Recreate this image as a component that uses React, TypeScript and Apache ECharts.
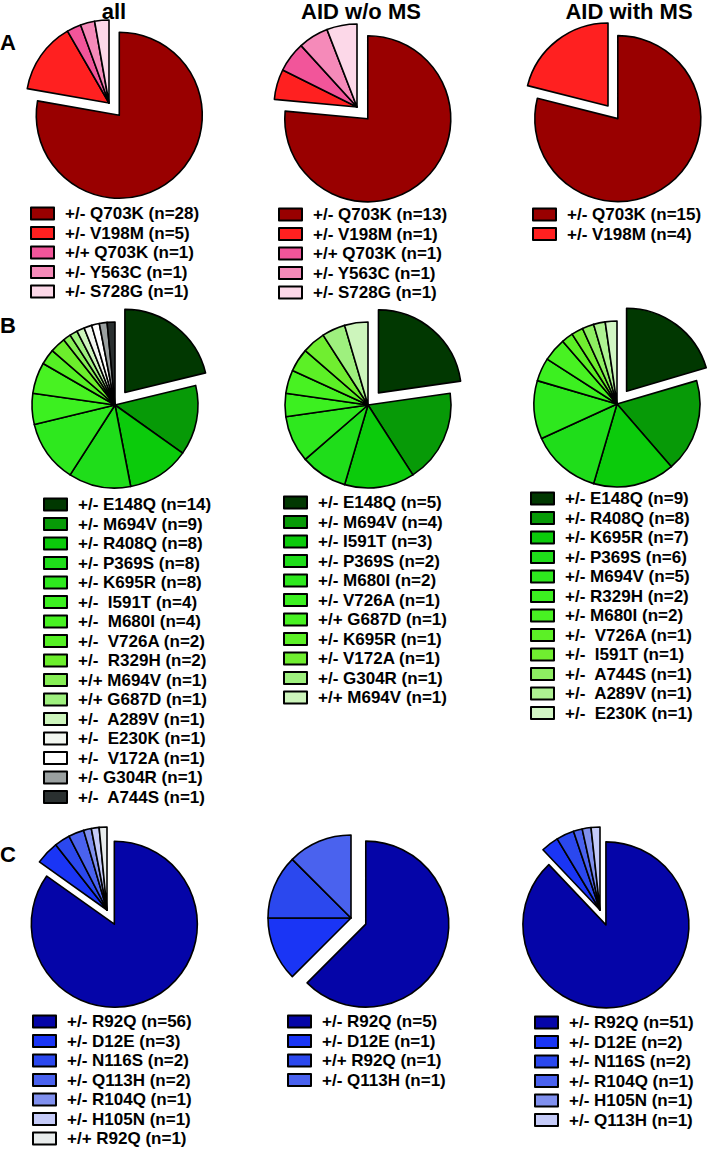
import React, { useEffect, useRef } from "react";
import * as echarts from "echarts";

const FONT = '"Liberation Sans", Arial, Helvetica, sans-serif';

const COLUMN_TITLES = ["all", "AID w/o MS", "AID with MS"];
const ROW_LABELS = ["A", "B", "C"];

// ---- Row A ----
const A_ALL_LABELS = ["+/- Q703K (n=28)", "+/- V198M (n=5)", "+/+ Q703K (n=1)", "+/- Y563C (n=1)", "+/- S728G (n=1)"];
const A_ALL_VALUES = [28, 5, 1, 1, 1];
const A_WO_LABELS = ["+/- Q703K (n=13)", "+/- V198M (n=1)", "+/+ Q703K (n=1)", "+/- Y563C (n=1)", "+/- S728G (n=1)"];
const A_WO_VALUES = [13, 1, 1, 1, 1];
const A_WITH_LABELS = ["+/- Q703K (n=15)", "+/- V198M (n=4)"];
const A_WITH_VALUES = [15, 4];
const RED_COLORS = ["#990000", "#FF2020", "#F2559A", "#F58AB9", "#FCD8E8"];

// ---- Row B ----
const B_ALL_LABELS = [
  "+/- E148Q (n=14)", "+/- M694V (n=9)", "+/- R408Q (n=8)", "+/- P369S (n=8)", "+/- K695R (n=8)",
  "+/-  I591T (n=4)", "+/-  M680I (n=4)", "+/-  V726A (n=2)", "+/-  R329H (n=2)", "+/+ M694V (n=1)",
  "+/+ G687D (n=1)", "+/-  A289V (n=1)", "+/-  E230K (n=1)", "+/-  V172A (n=1)", "+/- G304R (n=1)", "+/-  A744S (n=1)",
];
const B_ALL_VALUES = [14, 9, 8, 8, 8, 4, 4, 2, 2, 1, 1, 1, 1, 1, 1, 1];
const B_ALL_COLORS = [
  "#013801", "#079A07", "#0BCB0B", "#1FDD1A", "#2EE81E", "#3CF020", "#48F222", "#55F024",
  "#6CEE2C", "#86EE55", "#9EF07E", "#CDF5BC", "#F2F6F0", "#FFFFFF", "#9AA0A0", "#2A3030",
];
const B_WO_LABELS = [
  "+/- E148Q (n=5)", "+/- M694V (n=4)", "+/- I591T (n=3)", "+/- P369S (n=2)", "+/- M680I (n=2)",
  "+/- V726A (n=1)", "+/+ G687D (n=1)", "+/- K695R (n=1)", "+/- V172A (n=1)", "+/- G304R (n=1)", "+/+ M694V (n=1)",
];
const B_WO_VALUES = [5, 4, 3, 2, 2, 1, 1, 1, 1, 1, 1];
const B_WO_COLORS = [
  "#013801", "#079A07", "#0BCB0B", "#1FDD1A", "#2EE81E", "#3CF020", "#48F222", "#5CF026",
  "#70EE30", "#9EF07E", "#CDF5BC",
];
const B_WITH_LABELS = [
  "+/- E148Q (n=9)", "+/- R408Q (n=8)", "+/- K695R (n=7)", "+/- P369S (n=6)", "+/- M694V (n=5)",
  "+/- R329H (n=2)", "+/- M680I (n=2)", "+/-  V726A (n=1)", "+/-  I591T (n=1)", "+/-  A744S (n=1)",
  "+/-  A289V (n=1)", "+/-  E230K (n=1)",
];
const B_WITH_VALUES = [9, 8, 7, 6, 5, 2, 2, 1, 1, 1, 1, 1];
const B_WITH_COLORS = [
  "#013801", "#079A07", "#0BCB0B", "#1FDD1A", "#2EE81E", "#3CF020", "#48F222", "#5CF026",
  "#70EE30", "#8EEE62", "#AEF292", "#D2F6C4",
];

// ---- Row C ----
const C_ALL_LABELS = ["+/- R92Q (n=56)", "+/- D12E (n=3)", "+/- N116S (n=2)", "+/- Q113H (n=2)", "+/- R104Q (n=1)", "+/- H105N (n=1)", "+/+ R92Q (n=1)"];
const C_ALL_VALUES = [56, 3, 2, 2, 1, 1, 1];
const C_ALL_COLORS = ["#0505A8", "#1A35F5", "#2B48EE", "#4A62EE", "#8090EE", "#C5CBF8", "#E8ECEC"];
const C_WO_LABELS = ["+/- R92Q (n=5)", "+/- D12E (n=1)", "+/+ R92Q (n=1)", "+/- Q113H (n=1)"];
const C_WO_VALUES = [5, 1, 1, 1];
const C_WO_COLORS = ["#0505A8", "#1A35F5", "#2B48EE", "#4A62EE"];
const C_WITH_LABELS = ["+/- R92Q (n=51)", "+/- D12E (n=2)", "+/- N116S (n=2)", "+/- R104Q (n=1)", "+/- H105N (n=1)", "+/- Q113H (n=1)"];
const C_WITH_VALUES = [51, 2, 2, 1, 1, 1];
const C_WITH_COLORS = ["#0505A8", "#1A35F5", "#2B48EE", "#4A62EE", "#8090EE", "#C5CBF8"];

type Panel = {
  labels: string[];
  values: number[];
  colors: string[];
  center: [number, number];
  legend: [number, number];
};

const PANELS: Panel[] = [
  { labels: A_ALL_LABELS, values: A_ALL_VALUES, colors: RED_COLORS, center: [109, 103], legend: [30, 205] },
  { labels: A_WO_LABELS, values: A_WO_VALUES, colors: RED_COLORS, center: [357, 107], legend: [278, 206] },
  { labels: A_WITH_LABELS, values: A_WITH_VALUES, colors: RED_COLORS, center: [608, 106], legend: [532, 206] },
  { labels: B_ALL_LABELS, values: B_ALL_VALUES, colors: B_ALL_COLORS, center: [115, 405], legend: [43, 496] },
  { labels: B_WO_LABELS, values: B_WO_VALUES, colors: B_WO_COLORS, center: [368, 405], legend: [283, 494] },
  { labels: B_WITH_LABELS, values: B_WITH_VALUES, colors: B_WITH_COLORS, center: [617, 404], legend: [530, 490] },
  { labels: C_ALL_LABELS, values: C_ALL_VALUES, colors: C_ALL_COLORS, center: [107, 910], legend: [32, 1013] },
  { labels: C_WO_LABELS, values: C_WO_VALUES, colors: C_WO_COLORS, center: [351, 918], legend: [287, 1013] },
  { labels: C_WITH_LABELS, values: C_WITH_VALUES, colors: C_WITH_COLORS, center: [600, 910], legend: [534, 1014] },
];

const TITLE_POS: [number, number][] = [[114, 11], [361, 11], [629, 11]];
const LABEL_POS: [number, number][] = [[0, 42], [0, 325], [0, 854]];

export default function App() {
  const ref = useRef<HTMLDivElement>(null);

  useEffect(() => {
    if (!ref.current) return;
    const chart = echarts.init(ref.current, null, { renderer: "svg" });

    const series = PANELS.map((p) => ({
      type: "pie",
      center: p.center,
      radius: 83,
      startAngle: 90,
      clockwise: true,
      selectedMode: "single",
      selectedOffset: 16,
      label: { show: false },
      labelLine: { show: false },
      emphasis: { disabled: true },
      itemStyle: { borderColor: "#000", borderWidth: 1.6 },
      data: p.values.map((v, i) => ({
        name: p.labels[i],
        value: v,
        selected: i === 0,
        itemStyle: { color: p.colors[i] },
      })),
    }));

    const legend = PANELS.map((p) => ({
      orient: "vertical",
      left: p.legend[0],
      top: p.legend[1],
      padding: 0,
      itemGap: 2.5,
      itemWidth: 23,
      itemHeight: 12,
      icon: "rect",
      selectedMode: false,
      itemStyle: { borderColor: "#000", borderWidth: 2 },
      textStyle: {
        fontSize: 17,
        fontWeight: "bold",
        fontFamily: FONT,
        color: "#000",
        lineHeight: 17,
        padding: [0, 0, 0, 6],
      },
      data: p.labels.map((n, i) => ({ name: n, itemStyle: { color: p.colors[i] } })),
    }));

    const graphic = [
      ...COLUMN_TITLES.map((t, i) => ({
        type: "text",
        x: TITLE_POS[i][0],
        y: TITLE_POS[i][1],
        style: {
          text: t,
          fontSize: 22,
          fontWeight: "bold",
          fontFamily: FONT,
          fill: "#000",
          align: "center",
          verticalAlign: "middle",
        },
      })),
      ...ROW_LABELS.map((t, i) => ({
        type: "text",
        x: LABEL_POS[i][0],
        y: LABEL_POS[i][1],
        style: {
          text: t,
          fontSize: 22,
          fontWeight: "bold",
          fontFamily: FONT,
          fill: "#000",
          align: "left",
          verticalAlign: "middle",
        },
      })),
    ];

    chart.setOption({
      animation: false,
      backgroundColor: "#fff",
      legend,
      series,
      graphic,
    });

    return () => chart.dispose();
  }, []);

  return (
    <div
      ref={ref}
      style={{ position: "absolute", left: 0, top: 0, width: 710, height: 1150 }}
    />
  );
}
